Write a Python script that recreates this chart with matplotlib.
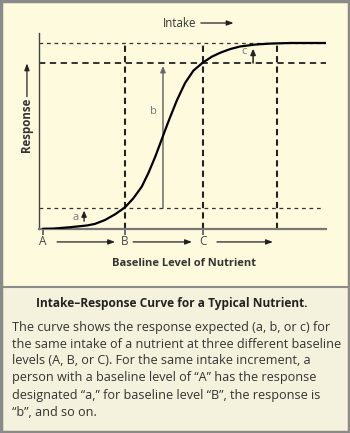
import matplotlib
matplotlib.use("Agg")
import matplotlib.pyplot as plt
from matplotlib.patches import Rectangle
from matplotlib.lines import Line2D

# ---- data ----
curve_x = [0.14, 0.49, 1.08, 1.67, 1.95, 2.30, 2.65, 3.00, 3.29, 3.58, 3.81, 4.04, 4.22,
           4.36, 4.48, 4.56, 4.80, 5.09, 5.38, 5.70, 6.02, 6.31, 6.66, 7.00, 7.53, 8.05,
           8.75, 10.0]
curve_y = [0.001, 0.002, 0.009, 0.018, 0.026, 0.046, 0.075, 0.111, 0.157, 0.216, 0.285,
           0.365, 0.435, 0.490, 0.537, 0.567, 0.655, 0.745, 0.808, 0.848, 0.879, 0.899,
           0.918, 0.931, 0.941, 0.946, 0.949, 0.949]
baseline_names = ["A", "B", "C"]
baseline_x = [0.14, 3.00, 5.71]
end_x = 8.31
response_levels = [0.107, 0.847, 0.949]
resp_names = ["a", "b", "c"]
resp_x = [1.57, 4.32, 7.46]
resp_from = [0.040, 0.107, 0.847]
resp_to = [0.094, 0.832, 0.920]

title = "Intake\u2013Response Curve for a Typical Nutrient."
caption_lines = [
    "The curve shows the response expected (a, b, or c) for",
    "the same intake of a nutrient at three different baseline",
    "levels (A, B, or C). For the same intake increment, a",
    "person with a baseline level of \u201cA\u201d has the response",
    "designated \u201ca,\u201d for baseline level \u201cB\u201d, the response is",
    "\u201cb\u201d, and so on.",
]

FONT = "Open Sans"
W, H = 350, 433
fig = plt.figure(figsize=(W / 100, H / 100), dpi=100)
fig.patch.set_facecolor("#FEFADD")

def fy(py):
    return 1 - py / H

# panels
fig.patches.append(Rectangle((0, 0), 1, fy(287), transform=fig.transFigure,
                             facecolor="#F4F1DC", edgecolor="none", zorder=0))
fig.add_artist(Line2D([0, 1], [fy(287), fy(287)], color="#8C8C8C", lw=1.5))
fig.patches.append(Rectangle((0.003, 0.003), 0.994, 0.994, transform=fig.transFigure,
                             facecolor="none", edgecolor="#8A8A8A", lw=2.5, zorder=5))

ax = fig.add_axes([39 / W, fy(229), 287 / W, 196 / H])
ax.set_xlim(0, 10)
ax.set_ylim(0, 1)
ax.patch.set_alpha(0)
for s in ["top", "right"]:
    ax.spines[s].set_visible(False)
ax.spines["left"].set_color("#444444")
ax.spines["left"].set_linewidth(1.0)
ax.spines["bottom"].set_color("#777777")
ax.spines["bottom"].set_linewidth(1.6)
ax.set_xticks(baseline_x)
ax.set_xticklabels([])
ax.set_yticks([])
ax.tick_params(axis="x", length=4, width=1.2, color="#555555")

dark = "#222222"
# horizontal dashed lines
ax.plot([0, 10], [response_levels[2]] * 2, ls=(0, (3, 3)), color="#333333", lw=0.9)
ax.plot([0, 10], [response_levels[1]] * 2, ls=(0, (3.5, 2.5)), color=dark, lw=1.3)
ax.plot([0, 9.9], [response_levels[0]] * 2, ls=(0, (3, 3)), color="#333333", lw=0.9)
# vertical dashed lines
for xv in [baseline_x[1], baseline_x[2], end_x]:
    ax.plot([xv, xv], [0, response_levels[2]], ls=(0, (3, 2)), color=dark, lw=1.5)

# curve
ax.plot(curve_x, curve_y, color="black", lw=1.6, solid_capstyle="round",
        solid_joinstyle="round", zorder=4)

# response arrows
arrow_cols = ["#222222", "#6A6A6A", "#222222"]
lab_off = [(-0.28, -0.035), (-0.32, -0.235), (-0.30, -0.015)]
for i in range(3):
    ax.annotate("", xy=(resp_x[i], resp_to[i]), xytext=(resp_x[i], resp_from[i]),
                arrowprops=dict(arrowstyle="-|>,head_length=0.35,head_width=0.15",
                                color=arrow_cols[i], lw=1.1 if i else 1.0,
                                shrinkA=0, shrinkB=0))
    ax.text(resp_x[i] + lab_off[i][0], resp_to[i] + lab_off[i][1], resp_names[i],
            fontsize=8, color="#777777", family=FONT, ha="center", va="center")

# baseline labels and arrows below the axis
arrow_spans = [(0.63, 2.65), (3.28, 5.33), (6.20, 8.15)]
for name, xv, (x0, x1) in zip(baseline_names, baseline_x, arrow_spans):
    ax.text(xv, -0.066, name, fontsize=8.5, color="#444444", family=FONT,
            ha="center", va="center", clip_on=False)
    ax.annotate("", xy=(x1, -0.066), xytext=(x0, -0.066), annotation_clip=False,
                arrowprops=dict(arrowstyle="-|>,head_length=0.4,head_width=0.15",
                                color=dark, lw=0.9, shrinkA=0, shrinkB=0))

ax.text(5.05, -0.175, "Baseline Level of Nutrient", fontsize=8.0, fontweight="bold",
        color="#333333", family=FONT, ha="center", va="center", clip_on=False)

# Intake label
ax.text(5.47, 1.051, "Intake", fontsize=8.3, color="#333333", family=FONT,
        ha="right", va="center", clip_on=False)
ax.annotate("", xy=(6.78, 1.051), xytext=(5.64, 1.051), annotation_clip=False,
            arrowprops=dict(arrowstyle="-|>,head_length=0.4,head_width=0.15",
                            color=dark, lw=0.9, shrinkA=0, shrinkB=0))

# Response label
ax.text(-0.42, 0.53, "Response", fontsize=8.3, fontweight="bold", rotation=90,
        color="#333333", family=FONT, ha="center", va="center", clip_on=False)
ax.annotate("", xy=(-0.42, 0.845), xytext=(-0.42, 0.675), annotation_clip=False,
            arrowprops=dict(arrowstyle="-|>,head_length=0.4,head_width=0.15",
                            color=dark, lw=0.9, shrinkA=0, shrinkB=0))

# caption
fig.text(172 / W, fy(303), title, fontsize=8.6, fontweight="bold", color="#222222",
         family=FONT, ha="center", va="center")
line_y = [327, 344, 361, 378, 396, 413]
for yy, line in zip(line_y, caption_lines):
    fig.text(12 / W, fy(yy), line, fontsize=9.1, color="#333333", family=FONT,
             ha="left", va="center")

fig.savefig("out.png", dpi=100, facecolor=fig.get_facecolor())
